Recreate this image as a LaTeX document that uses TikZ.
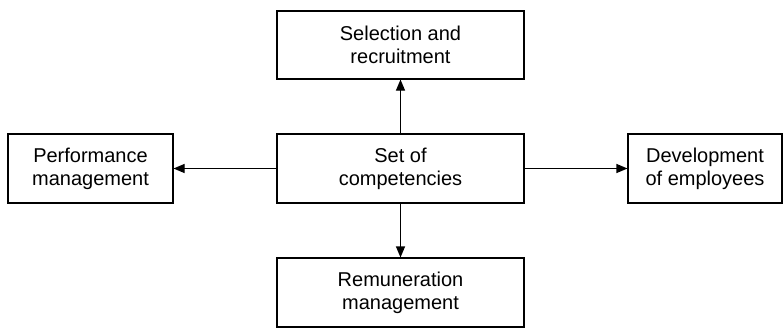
\documentclass[tikz,border=0pt]{standalone}
\usepackage{fontspec}
\setmainfont{Liberation Sans}
\usetikzlibrary{arrows.meta}
\begin{document}
\begin{tikzpicture}[x=1pt, y=-1pt,
    box/.style={draw, line width=1.1pt, align=center, inner sep=0pt,
      minimum height=69pt, font=\fontsize{20}{23}\selectfont},
    arr/.style={line width=1.1pt, -{Triangle[length=11pt, width=9pt]}}]
    \useasboundingbox (0,0) rectangle (784,329);
    \node (comp) [box, minimum width=247pt] at (400.5,168.5) {Set of\\competencies};
    \node (sel) [box, minimum width=247pt, minimum height=68pt] at (400.5,45) {Selection and\\recruitment};
    \node (rem) [box, minimum width=247pt] at (400.5,292.5) {Remuneration\\management};
    \node (perf) [box, minimum width=165pt] at (90.5,168.5) {Performance\\management};
    \node (dev) [box, minimum width=154pt] at (705,168.5) {Development\\of employees};
    \draw[arr] (comp) -- (sel);
    \draw[arr] (comp) -- (rem);
    \draw[arr] (comp) -- (perf);
    \draw[arr] (comp) -- (dev);
  \end{tikzpicture}
\end{document}
